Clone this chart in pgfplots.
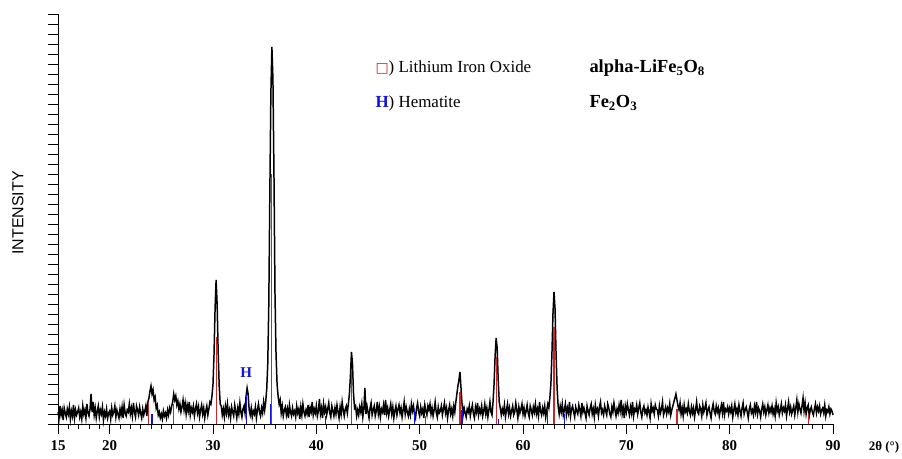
\documentclass[border=0pt]{standalone}
\usepackage{fontspec}
\setmainfont{Liberation Serif}
\newfontfamily\arial{Liberation Sans}
\newfontfamily\dejavu{DejaVu Sans}
\usepackage{pgfplots}
\usepackage{pgfplotstable}
\pgfplotsset{compat=1.18}

% measured intensity, one value every 0.1 deg from 15.0 to 90.0
\pgfplotstableread[row sep=\\]{
y\\
12\\6\\18\\9\\14\\4\\16\\11\\7\\15\\
10\\17\\5\\13\\8\\19\\6\\14\\9\\12\\
16\\7\\12\\5\\18\\10\\14\\6\\20\\11\\
8\\15\\30\\12\\22\\9\\16\\6\\13\\18\\
7\\14\\10\\17\\4\\12\\8\\15\\6\\11\\
13\\5\\16\\9\\12\\18\\7\\14\\10\\6\\
15\\9\\17\\6\\19\\11\\8\\14\\12\\20\\
10\\16\\8\\21\\12\\7\\18\\14\\9\\17\\
11\\6\\15\\9\\13\\18\\8\\22\\26\\33\\
38\\30\\34\\24\\27\\16\\19\\9\\12\\6\\
10\\5\\13\\8\\11\\6\\14\\9\\16\\12\\
18\\22\\30\\24\\28\\19\\23\\15\\20\\12\\
17\\24\\14\\21\\10\\19\\13\\22\\9\\16\\
12\\18\\8\\15\\20\\11\\17\\7\\14\\19\\
10\\16\\6\\13\\18\\9\\15\\22\\20\\28\\
40\\70\\115\\144\\120\\72\\38\\20\\18\\9\\
15\\7\\18\\11\\20\\9\\14\\6\\17\\12\\
8\\19\\13\\6\\16\\10\\21\\12\\7\\15\\
18\\11\\28\\36\\30\\14\\9\\16\\7\\13\\
10\\17\\6\\14\\20\\12\\8\\16\\11\\22\\
14\\22\\35\\60\\120\\230\\330\\377\\345\\250\\
130\\70\\40\\28\\20\\24\\11\\18\\8\\14\\
17\\9\\15\\6\\19\\12\\8\\16\\10\\13\\
7\\18\\11\\15\\5\\17\\9\\20\\12\\8\\
14\\10\\19\\7\\16\\12\\22\\9\\15\\11\\
18\\8\\13\\25\\10\\16\\6\\20\\12\\17\\
9\\15\\21\\11\\7\\18\\13\\8\\16\\10\\
19\\12\\6\\17\\10\\22\\14\\8\\15\\18\\
11\\20\\30\\48\\72\\60\\30\\16\\18\\8\\
14\\9\\17\\12\\20\\7\\15\\36\\10\\18\\
12\\6\\16\\21\\9\\14\\18\\8\\13\\22\\
10\\17\\7\\15\\12\\19\\9\\24\\11\\16\\
8\\14\\20\\10\\17\\6\\13\\18\\9\\15\\
19\\11\\16\\7\\14\\22\\10\\17\\12\\8\\
15\\9\\20\\13\\18\\10\\6\\16\\21\\12\\
8\\17\\11\\15\\6\\19\\13\\9\\18\\14\\
20\\10\\16\\8\\14\\22\\12\\7\\17\\11\\
13\\18\\9\\15\\21\\11\\16\\6\\14\\19\\
10\\15\\8\\18\\12\\22\\30\\38\\44\\52\\
36\\20\\9\\16\\11\\7\\15\\12\\18\\8\\
14\\19\\10\\6\\17\\12\\21\\9\\15\\11\\
18\\8\\13\\20\\10\\16\\7\\14\\22\\12\\
9\\22\\40\\68\\86\\76\\44\\22\\16\\9\\
15\\11\\19\\7\\14\\20\\10\\16\\8\\13\\
18\\9\\12\\21\\14\\6\\17\\11\\15\\20\\
10\\16\\8\\13\\19\\11\\7\\18\\14\\9\\
17\\12\\20\\10\\15\\8\\22\\13\\9\\16\\
11\\18\\7\\14\\20\\16\\26\\40\\70\\110\\
132\\115\\70\\36\\18\\10\\18\\12\\20\\9\\
14\\20\\9\\16\\11\\22\\8\\15\\18\\12\\
7\\17\\13\\10\\19\\14\\8\\21\\12\\16\\
11\\6\\18\\13\\9\\16\\20\\10\\15\\7\\
19\\12\\15\\8\\17\\22\\11\\14\\9\\18\\
13\\9\\20\\16\\10\\7\\17\\12\\21\\14\\
8\\15\\11\\19\\13\\24\\10\\16\\6\\18\\
12\\20\\14\\9\\17\\11\\22\\8\\15\\13\\
19\\10\\16\\21\\12\\7\\15\\18\\11\\14\\
9\\17\\12\\6\\20\\13\\16\\10\\19\\15\\
14\\8\\18\\11\\15\\22\\9\\13\\17\\10\\
16\\12\\20\\9\\14\\18\\22\\26\\30\\24\\
18\\14\\21\\10\\16\\8\\19\\12\\15\\11\\
20\\13\\9\\17\\11\\16\\7\\14\\22\\12\\
10\\18\\15\\8\\19\\12\\16\\21\\9\\14\\
17\\11\\6\\15\\20\\13\\10\\18\\12\\16\\
8\\14\\19\\11\\22\\9\\15\\13\\17\\10\\
16\\12\\18\\7\\14\\20\\11\\15\\9\\19\\
13\\8\\16\\21\\10\\14\\17\\12\\6\\15\\
19\\11\\14\\9\\18\\12\\22\\10\\16\\13\\
7\\15\\20\\12\\17\\9\\14\\19\\11\\16\\
12\\18\\10\\15\\8\\21\\13\\17\\9\\14\\
20\\11\\16\\13\\19\\8\\15\\22\\12\\17\\
10\\14\\18\\9\\16\\24\\12\\20\\15\\11\\
18\\26\\13\\21\\10\\16\\19\\8\\14\\17\\
12\\9\\15\\20\\11\\17\\13\\18\\10\\14\\
16\\11\\19\\8\\14\\12\\17\\10\\15\\13\\
9\\
}\spectrum

% reference lines, alpha-LiFe5O8
\pgfplotstableread{
x    h
23.8 22
26.2 20
30.3 87
35.7 250
43.4 55
50.6 8
53.9 32
57.4 67
63.0 97
74.9 15
87.6 10
}\lfo

% reference lines, hematite
\pgfplotstableread{
x    h
24.1 10
33.2 30
35.6 20
40.9 8
49.5 15
54.1 14
57.6 5
62.4 14
64.0 10
}\hem

\definecolor{lfored}{RGB}{205,35,45}
\definecolor{hemblue}{RGB}{20,20,220}

\begin{document}
\begin{tikzpicture}
\path[use as bounding box] (0,0) rectangle (902bp,459bp);
\begin{axis}[
    at={(58bp,35bp)}, anchor=south west,
    scale only axis,
    width=775bp, height=410bp,
    xmin=15, xmax=90, ymin=0, ymax=410,
    axis x line=bottom, axis y line=left,
    axis line style={-, black, line width=0.9pt},
    xtick={15,20,30,40,50,60,70,80,90},
    xticklabels={15,20,30,40,50,60,70,80,90},
    minor xtick={15,16,...,90},
    ytick={0,10,...,410},
    yticklabels={},
    tick align=outside,
    major tick length=10bp,
    minor tick length=5bp,
    tick style={black, line width=0.8pt},
    xticklabel style={font=\bfseries\fontsize{15}{15}\selectfont, yshift=-3bp},
    clip=false,
]
\addplot[black, line width=1.5pt] table[x expr=15+0.1*\coordindex, y=y] {\spectrum};
\addplot[lfored, line width=1.1pt, ycomb] table[x=x, y=h] {\lfo};
\addplot[hemblue, line width=1.1pt, ycomb] table[x=x, y=h] {\hem};
\node[text=hemblue, font=\bfseries\fontsize{15}{15}\selectfont] at (axis cs:33.2,51) {H};
\end{axis}
\node[rotate=90, font=\arial\fontsize{16}{16}\selectfont] at (18bp,246bp) {INTENSITY};
\node[font=\bfseries\fontsize{13}{13}\selectfont] at (884bp,12bp) {2θ (°)};
\node[anchor=base west, font=\fontsize{17}{17}\selectfont] at (372bp,386bp)
  {{\dejavu\fontsize{14}{14}\selectfont\textcolor{lfored}{□}}) Lithium Iron Oxide};
\node[anchor=base west, font=\bfseries\fontsize{18.5}{18.5}\selectfont] at (586bp,386bp)
  {alpha-LiFe\textsubscript{5}O\textsubscript{8}};
\node[anchor=base west, font=\fontsize{17}{17}\selectfont] at (372bp,351bp)
  {\textcolor{hemblue}{\bfseries H}) Hematite};
\node[anchor=base west, font=\bfseries\fontsize{18.5}{18.5}\selectfont] at (586bp,351bp)
  {Fe\textsubscript{2}O\textsubscript{3}};
\end{tikzpicture}
\end{document}
